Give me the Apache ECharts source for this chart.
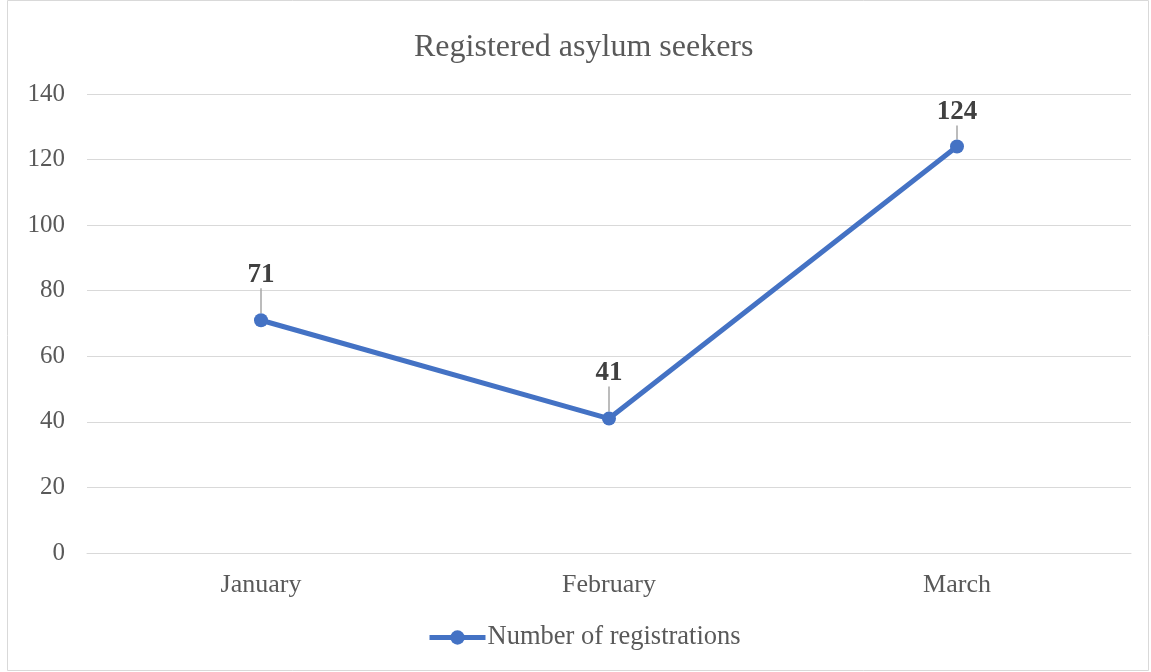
<!DOCTYPE html>
<html>
<head>
<meta charset="utf-8">
<script src="https://cdn.jsdelivr.net/npm/echarts@6/dist/echarts.min.js"></script>
<style>
  html, body { margin: 0; padding: 0; background: #fff; }
  #chart { width: 1151px; height: 672px; }
</style>
</head>
<body>
<div id="chart"></div>
<script>
var months = ['January', 'February', 'March'];
var registrations = [71, 41, 124];

var chart = echarts.init(document.getElementById('chart'));
var font = '"Liberation Serif", "Times New Roman", serif';

chart.setOption({
    textStyle: { fontFamily: font },
    title: {
        text: 'Registered asylum seekers',
        left: 409,
        top: 27,
        textStyle: { fontFamily: font, fontSize: 32, fontWeight: 'normal', color: '#595959' }
    },
    graphic: [{
        type: 'rect',
        shape: { x: 7.5, y: 0.5, width: 1141, height: 670 },
        style: { fill: 'none', stroke: '#d9d9d9', lineWidth: 1 },
        silent: true
    }],
    legend: {
        bottom: 16,
        left: 422,
        itemWidth: 56,
        itemHeight: 18,
        itemGap: 10,
        lineStyle: { width: 5 },
        textStyle: { fontFamily: font, fontSize: 26.5, color: '#595959', padding: [0, 0, 0, -3] },
        data: ['Number of registrations']
    },
    grid: { left: 87, right: 20, top: 94, bottom: 119 },
    xAxis: {
        type: 'category',
        data: months,
        axisLine: { lineStyle: { color: '#d9d9d9' } },
        axisTick: { show: false },
        axisLabel: { fontFamily: font, fontSize: 26, color: '#595959', margin: 19 }
    },
    yAxis: {
        type: 'value',
        min: 0,
        max: 140,
        interval: 20,
        axisLine: { show: false },
        axisTick: { show: false },
        splitLine: { lineStyle: { color: '#d9d9d9', width: 1 } },
        axisLabel: { fontFamily: font, fontSize: 25, color: '#595959', margin: 22 }
    },
    series: [{
        name: 'Number of registrations',
        type: 'line',
        data: registrations,
        symbol: 'circle',
        symbolSize: 14,
        lineStyle: { color: '#4472C4', width: 5 },
        itemStyle: { color: '#4472C4' },
        label: {
            show: true,
            position: 'top',
            distance: 2,
            fontFamily: font,
            fontSize: 27,
            fontWeight: 'bold',
            color: '#404040'
        },
        labelLayout: function (params) {
            return { dy: params.dataIndex === 2 ? -12 : -23 };
        },
        labelLine: { show: true, lineStyle: { color: '#a6a6a6', width: 1.5 } }
    }]
});
</script>
</body>
</html>
